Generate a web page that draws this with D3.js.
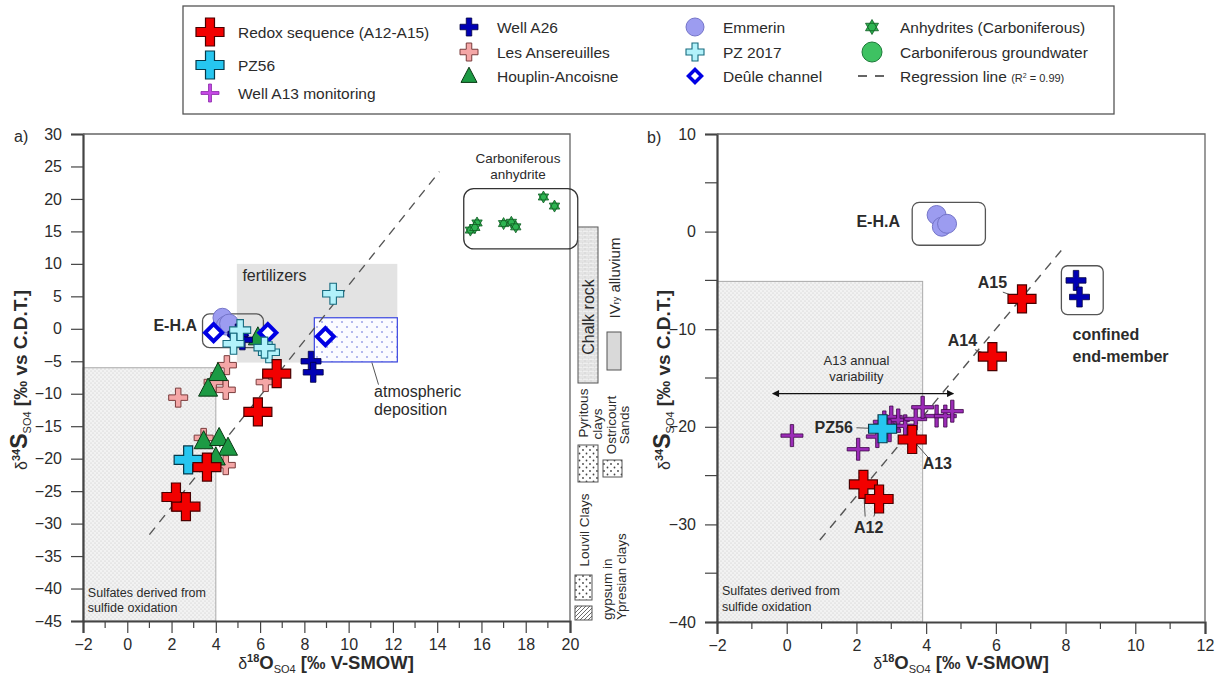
<!DOCTYPE html>
<html>
<head>
<meta charset="utf-8">
<script src="https://cdn.jsdelivr.net/npm/d3@7"></script>
<style>
  body { margin: 0; background: #fff; }
  text { font-family: "Liberation Sans", Arial, sans-serif; fill: #2b2b2b; }
</style>
</head>
<body>
<svg id="chart" width="1219" height="693"></svg>
<script>
// ---- data (d18O_SO4, d34S_SO4) ----
const redoxO = [2.2, 2.65, 3.6, 5.9, 6.75];
const redoxS = [-25.9, -27.4, -21.3, -12.8, -6.9];
const pz56O = [2.75];
const pz56S = [-20.2];
const a26O = [8.3, 8.4];
const a26S = [-5.0, -6.7];
const a26ClusterO = [5.2, 5.0];
const a26ClusterS = [-1.7, -0.8];
const emmerinO = [4.3, 4.45, 4.6];
const emmerinS = [1.7, 0.5, 0.8];
const ansereuillesO = [2.3, 3.9, 4.5, 4.45, 6.25, 3.45, 4.45];
const ansereuillesS = [-10.6, -8.2, -5.6, -9.4, -8.2, -16.8, -21.0];
const houplinO = [4.1, 3.65, 5.9, 3.45, 4.15, 4.55, 4.0];
const houplinS = [-6.8, -9.2, -1.3, -17.3, -16.8, -18.3, -19.8];
const pz2017O = [9.3, 5.1, 4.8, 6.4, 6.2];
const pz2017S = [5.4, -0.2, -2.3, -3.6, -2.9];
const deuleO = [3.9, 5.0, 6.35, 8.95];
const deuleS = [-0.6, -1.0, -0.6, -1.2];
const anhydriteO = [15.5, 15.8, 15.7, 17.0, 17.35, 17.55, 18.8, 19.3];
const anhydriteS = [15.2, 16.3, 15.6, 16.2, 16.4, 15.7, 20.3, 18.9];
const a13O = [0.15, 2.05, 2.6, 2.8, 3.0, 3.2, 3.4, 2.95, 3.7, 3.9, 4.3, 4.55, 4.75];
const a13S = [-20.9, -22.3, -21.0, -19.5, -19.0, -19.3, -19.9, -20.4, -19.2, -18.0, -18.9, -18.9, -18.4];
const regAO = [1.0, 14.1];
const regAS = [-31.7, 24.2];
const regBO = [0.95, 8.0];
const regBS = [-31.6, -1.4];

const seriesNames = ['Redox sequence (A12-A15)', 'PZ56', 'Well A13 monitoring', 'Well A26', 'Les Ansereuilles',
  'Houplin-Ancoisne', 'Emmerin', 'PZ 2017', 'Deûle channel', 'Anhydrites (Carboniferous)',
  'Carboniferous groundwater', 'Regression line'];

const xTicksA = d3.range(-2, 21, 2);
const yTicksA = d3.range(-45, 31, 5);
const xTicksB = d3.range(-2, 13, 2);
const yTicksB = d3.range(-40, 11, 10);

// ---- shapes ----
function plus(w, t) {
  const a = w / 2, b = t / 2;
  return `M${-b},${-a}H${b}V${-b}H${a}V${b}H${b}V${a}H${-b}V${b}H${-a}V${-b}H${-b}Z`;
}
function hexagram(r) {
  const tri = (rot) => d3.range(3).map(i => {
    const ang = rot + i * 2 * Math.PI / 3;
    return [r * Math.sin(ang), -r * Math.cos(ang)];
  });
  const p = (pts) => 'M' + pts.map(q => q.join(',')).join('L') + 'Z';
  return p(tri(0)) + p(tri(Math.PI));
}
const circle = (r) => d3.symbol(d3.symbolCircle, Math.PI * r * r)();
const triangle = (w) => `M0,${-w * 0.55}L${w / 2},${w * 0.4}L${-w / 2},${w * 0.4}Z`;
const diamond = (w) => `M0,${-w / 2}L${w / 2},0L0,${w / 2}L${-w / 2},0Z`;

const styles = {
  redox: { d: plus(28, 9), fill: '#f20000', stroke: '#4a0000', sw: 1.2 },
  pz56: { d: plus(28, 9), fill: '#26c6f0', stroke: '#063848', sw: 1.2 },
  a13: { d: plus(22, 3.4), fill: '#9c2cb8', stroke: '#3e0848', sw: 0.8 },
  a26: { d: plus(20, 5.5), fill: '#0000b4', stroke: '#000040', sw: 0.8 },
  ans: { d: plus(19, 5.5), fill: '#f4a6a6', stroke: '#7a3c3c', sw: 1 },
  houp: { d: triangle(19), fill: '#1c9a44', stroke: '#0a3814', sw: 1 },
  emm: { d: circle(9.5), fill: '#9c9cf0', stroke: '#7474c8', sw: 1 },
  pz17: { d: plus(21, 6.5), fill: '#b2f2fb', stroke: '#176a7e', sw: 1.1 },
  deule: { d: diamond(17), fill: '#ffffff', stroke: '#0000e4', sw: 4 },
  anh: { d: hexagram(6), fill: '#2eb452', stroke: '#0f5a22', sw: 0.8 },
  cgw: { d: circle(10), fill: '#3ec262', stroke: '#1c7a38', sw: 1 }
};

const svg = d3.select('#chart');
const defs = svg.append('defs');

// patterns
const stip = defs.append('pattern').attr('id', 'stip').attr('width', 4).attr('height', 4).attr('patternUnits', 'userSpaceOnUse');
stip.append('rect').attr('width', 4).attr('height', 4).attr('fill', '#f2f2f2');
stip.append('circle').attr('cx', 1).attr('cy', 1).attr('r', 0.55).attr('fill', '#c4c4c4');
stip.append('circle').attr('cx', 3).attr('cy', 3).attr('r', 0.55).attr('fill', '#c4c4c4');

const atm = defs.append('pattern').attr('id', 'atm').attr('width', 10).attr('height', 10).attr('patternUnits', 'userSpaceOnUse');
atm.append('rect').attr('width', 10).attr('height', 10).attr('fill', '#fbfbff');
atm.append('circle').attr('cx', 2).attr('cy', 2).attr('r', 0.8).attr('fill', '#5a64d8');
atm.append('circle').attr('cx', 7).attr('cy', 7).attr('r', 0.8).attr('fill', '#5a64d8');

const dots = defs.append('pattern').attr('id', 'dots').attr('width', 7).attr('height', 7).attr('patternUnits', 'userSpaceOnUse');
dots.append('rect').attr('width', 7).attr('height', 7).attr('fill', '#fff');
dots.append('circle').attr('cx', 2).attr('cy', 2).attr('r', 0.9).attr('fill', '#444');
dots.append('circle').attr('cx', 5.5).attr('cy', 5.5).attr('r', 0.9).attr('fill', '#444');

const chalk = defs.append('pattern').attr('id', 'chalk').attr('width', 6).attr('height', 4).attr('patternUnits', 'userSpaceOnUse');
chalk.append('rect').attr('width', 6).attr('height', 4).attr('fill', '#efefef');
chalk.append('path').attr('d', 'M0,0H6M0,2H6M3,0V2M0,2V4').attr('stroke', '#c8c8c8').attr('stroke-width', 0.6);

const hatch = defs.append('pattern').attr('id', 'hatch').attr('width', 4).attr('height', 4).attr('patternUnits', 'userSpaceOnUse');
hatch.append('rect').attr('width', 4).attr('height', 4).attr('fill', '#fff');
hatch.append('path').attr('d', 'M0,4L4,0').attr('stroke', '#444').attr('stroke-width', 0.8);

// ---- helpers ----
function drawPoints(g, x, y, xs, ys, st) {
  g.append('g').selectAll('path').data(d3.zip(xs, ys)).join('path')
    .attr('transform', d => `translate(${x(d[0])},${y(d[1])})`)
    .attr('d', st.d)
    .attr('fill', st.fill)
    .attr('stroke', st.stroke)
    .attr('stroke-width', st.sw)
    .attr('stroke-linejoin', 'miter');
}

function drawFrame(g, x, y, xMajor, xMinor, yMajor, yMinor) {
  const [x0, x1] = x.range();
  const [y0, y1] = y.range();
  // minor ticks
  g.append('g').selectAll('line').data(xMinor).join('line')
    .attr('x1', d => x(d)).attr('x2', d => x(d)).attr('y1', y0).attr('y2', y0 + 7)
    .attr('stroke', '#444').attr('stroke-width', 1.2);
  g.append('g').selectAll('line').data(yMinor).join('line')
    .attr('x1', x0).attr('x2', x0 - 12).attr('y1', d => y(d)).attr('y2', d => y(d))
    .attr('stroke', '#444').attr('stroke-width', 1.2);
  const ax = g.append('g').attr('transform', `translate(0,${y0})`)
    .call(d3.axisBottom(x).tickValues(xMajor).tickSize(12).tickPadding(6).tickFormat(d3.format('d')));
  const ay = g.append('g').attr('transform', `translate(${x0},0)`)
    .call(d3.axisLeft(y).tickValues(yMajor).tickSize(12).tickPadding(9).tickFormat(d3.format('d')));
  [ax, ay].forEach(a => {
    a.select('.domain').attr('stroke', '#444').attr('stroke-width', 2.2);
    a.selectAll('.tick line').attr('stroke', '#444').attr('stroke-width', 1.2);
    a.selectAll('.tick text').style('font-size', '16px').attr('fill', '#333')
      .style('font-family', '"Liberation Sans", Arial, sans-serif');
  });
  g.append('path').attr('d', `M${x0},${y1}H${x1}V${y0}`)
    .attr('fill', 'none').attr('stroke', '#666').attr('stroke-width', 1.3);
}

function xTitle(g, cx, cy) {
  const t = g.append('text').attr('x', cx).attr('y', cy).attr('text-anchor', 'middle')
    .style('font-size', '18.5px').style('font-weight', 'bold');
  t.append('tspan').text('δ').style('font-weight', 'normal').style('font-size', '16px');
  t.append('tspan').text('18').style('font-size', '11px').attr('dy', -7);
  t.append('tspan').text('O').attr('dy', 7);
  t.append('tspan').text('SO4').style('font-size', '11px').style('font-weight', 'normal').attr('dy', 4);
  t.append('tspan').text(' [‰ V-SMOW]').attr('dy', -4);
}

function yTitle(g, cx, cy) {
  const t = g.append('text').attr('transform', `translate(${cx},${cy}) rotate(-90)`).attr('text-anchor', 'middle')
    .style('font-size', '19px').style('font-weight', 'bold');
  t.append('tspan').text('δ').style('font-weight', 'normal').style('font-size', '16px');
  t.append('tspan').text('34').style('font-size', '11px').attr('dy', -7);
  t.append('tspan').text('S').attr('dy', 7).style('font-size', '23px');
  t.append('tspan').text('SO4').style('font-size', '11px').style('font-weight', 'normal').attr('dy', 4);
  t.append('tspan').text(' [‰ vs C.D.T.]').attr('dy', -4);
}

function label(g, px, py, txt, opts = {}) {
  return g.append('text').attr('x', px).attr('y', py).text(txt)
    .attr('text-anchor', opts.anchor || 'start')
    .style('font-size', (opts.size || 15) + 'px')
    .style('font-weight', opts.bold ? 'bold' : 'normal')
    .attr('fill', opts.color || '#2b2b2b');
}

function leader(g, p1, p2) {
  g.append('line').attr('x1', p1[0]).attr('y1', p1[1]).attr('x2', p2[0]).attr('y2', p2[1])
    .attr('stroke', '#555').attr('stroke-width', 1);
}

// ================= PANEL A =================
const xA = d3.scaleLinear().domain([-2, 20]).range([83, 570]);
const yA = d3.scaleLinear().domain([-45, 30]).range([621, 134]);
const gA = svg.append('g');

// regions
gA.append('rect').attr('x', xA(-2)).attr('y', yA(-6)).attr('width', xA(4) - xA(-2)).attr('height', yA(-45) - yA(-6))
  .attr('fill', 'url(#stip)').attr('stroke', '#aaa').attr('stroke-width', 1);
gA.append('rect').attr('x', xA(4.95)).attr('y', yA(10)).attr('width', xA(12.2) - xA(4.95)).attr('height', yA(-5.2) - yA(10))
  .attr('fill', '#e3e3e3');
gA.append('rect').attr('x', xA(8.45)).attr('y', yA(1.7)).attr('width', xA(12.2) - xA(8.45)).attr('height', yA(-5.1) - yA(1.7))
  .attr('fill', 'url(#atm)').attr('stroke', '#3a46e0').attr('stroke-width', 1.2);

label(gA, xA(-1.78), yA(-41.3), 'Sulfates derived from', { size: 12.5, color: '#444' });
label(gA, xA(-1.78), yA(-43.6), 'sulfide oxidation', { size: 12.5, color: '#444' });
label(gA, xA(5.2), yA(7.4), 'fertilizers', { size: 16 });
label(gA, xA(11.15), yA(-10.5), 'atmospheric', { size: 16 });
label(gA, xA(11.15), yA(-13.3), 'deposition', { size: 16 });
leader(gA, [xA(11.05), yA(-5.2)], [xA(11.35), yA(-8.6)]);

drawFrame(gA, xA, yA, xTicksA, d3.range(-1, 20, 2), yTicksA, []);

// regression
gA.append('line').attr('x1', xA(regAO[0])).attr('y1', yA(regAS[0])).attr('x2', xA(regAO[1])).attr('y2', yA(regAS[1]))
  .attr('stroke', '#555').attr('stroke-width', 1.4).attr('stroke-dasharray', '9,7');

// rounded boxes
gA.append('rect').attr('x', xA(3.4)).attr('y', yA(2.3)).attr('width', xA(6.15) - xA(3.4)).attr('height', yA(-2.9) - yA(2.3))
  .attr('rx', 7).attr('fill', 'none').attr('stroke', '#555').attr('stroke-width', 1.3);
gA.append('rect').attr('x', xA(15.2)).attr('y', yA(21.6)).attr('width', xA(20.35) - xA(15.2)).attr('height', yA(12.3) - yA(21.6))
  .attr('rx', 10).attr('fill', 'none').attr('stroke', '#333').attr('stroke-width', 1.3);
label(gA, xA(17.65), yA(25.6), 'Carboniferous', { size: 13.5, anchor: 'middle' });
label(gA, xA(17.65), yA(23.0), 'anhydrite', { size: 13.5, anchor: 'middle' });
label(gA, xA(3.15), yA(-0.3), 'E-H.A', { size: 16, bold: true, anchor: 'end' });

// points
drawPoints(gA, xA, yA, anhydriteO, anhydriteS, styles.anh);
drawPoints(gA, xA, yA, ansereuillesO, ansereuillesS, styles.ans);
drawPoints(gA, xA, yA, houplinO, houplinS, styles.houp);
drawPoints(gA, xA, yA, emmerinO, emmerinS, styles.emm);
drawPoints(gA, xA, yA, deuleO, deuleS, styles.deule);
drawPoints(gA, xA, yA, a26ClusterO, a26ClusterS, styles.a26);
drawPoints(gA, xA, yA, pz2017O, pz2017S, styles.pz17);
drawPoints(gA, xA, yA, a26O, a26S, styles.a26);
drawPoints(gA, xA, yA, pz56O, pz56S, styles.pz56);
drawPoints(gA, xA, yA, redoxO, redoxS, styles.redox);

xTitle(gA, 326, 669);
yTitle(gA, 27, 380);
label(gA, 14, 142, 'a)', { size: 16 });

// stratigraphic column (right of panel a)
const sc = svg.append('g');
function vtext(px, py, txt, size, anchor) {
  return sc.append('text').attr('transform', `translate(${px},${py}) rotate(-90)`)
    .attr('text-anchor', anchor || 'middle').style('font-size', size + 'px').attr('fill', '#333').text(txt);
}
sc.append('rect').attr('x', 578).attr('y', 227).attr('width', 20).attr('height', 156).attr('fill', 'url(#chalk)').attr('stroke', '#555');
vtext(594, 317, 'Chalk rock', 16);
const iv = sc.append('text').attr('transform', 'translate(620,278) rotate(-90)').attr('text-anchor', 'middle')
  .style('font-size', '15px').attr('fill', '#333');
iv.append('tspan').text('IV');
iv.append('tspan').text('ry').style('font-size', '9px').attr('dy', -1);
iv.append('tspan').text(' alluvium').attr('dy', 1);
sc.append('rect').attr('x', 607).attr('y', 332).attr('width', 14).attr('height', 38).attr('fill', '#d9d9d9').attr('stroke', '#555');
vtext(588, 413, 'Pyritous', 13.5);
vtext(602, 424, 'clays', 13.5);
sc.append('rect').attr('x', 578).attr('y', 445).attr('width', 20).attr('height', 37).attr('fill', 'url(#dots)').attr('stroke', '#555');
vtext(616, 425, 'Ostricourt', 13.5);
vtext(629, 425, 'Sands', 13.5);
sc.append('rect').attr('x', 603).attr('y', 460).attr('width', 19).attr('height', 17).attr('fill', 'url(#dots)').attr('stroke', '#555');
vtext(589, 530, 'Louvil Clays', 13.5);
sc.append('rect').attr('x', 575).attr('y', 575).attr('width', 17).attr('height', 25).attr('fill', 'url(#dots)').attr('stroke', '#555');
sc.append('rect').attr('x', 575).attr('y', 606).attr('width', 17).attr('height', 14).attr('fill', 'url(#hatch)').attr('stroke', '#555');
vtext(612, 620, 'gypsum in', 13.5, 'start');
vtext(626, 620, 'Ypresian clays', 13.5, 'start');

// ================= PANEL B =================
const xB = d3.scaleLinear().domain([-2, 12]).range([717, 1205]);
const yB = d3.scaleLinear().domain([-40, 10]).range([622, 134]);
const gB = svg.append('g');

gB.append('rect').attr('x', xB(-2)).attr('y', yB(-5.1)).attr('width', xB(3.9) - xB(-2)).attr('height', yB(-40) - yB(-5.1))
  .attr('fill', 'url(#stip)').attr('stroke', '#aaa').attr('stroke-width', 1);
label(gB, xB(-1.86), yB(-37.2), 'Sulfates derived from', { size: 12.5, color: '#444' });
label(gB, xB(-1.86), yB(-38.9), 'sulfide oxidation', { size: 12.5, color: '#444' });

drawFrame(gB, xB, yB, xTicksB, d3.range(-1, 12, 2), yTicksB, d3.range(-35, 10, 10));

gB.append('line').attr('x1', xB(regBO[0])).attr('y1', yB(regBS[0])).attr('x2', xB(regBO[1])).attr('y2', yB(regBS[1]))
  .attr('stroke', '#555').attr('stroke-width', 1.4).attr('stroke-dasharray', '9,7');

// arrow
defs.append('marker').attr('id', 'ah').attr('viewBox', '0 0 10 10').attr('refX', 9).attr('refY', 5)
  .attr('markerWidth', 9).attr('markerHeight', 7).attr('markerUnits', 'userSpaceOnUse').attr('orient', 'auto-start-reverse')
  .append('path').attr('d', 'M0,0L10,5L0,10Z').attr('fill', '#111');
gB.append('line').attr('x1', xB(-0.4)).attr('y1', yB(-16.6)).attr('x2', xB(4.78)).attr('y2', yB(-16.6))
  .attr('stroke', '#111').attr('stroke-width', 1.3)
  .attr('marker-start', 'url(#ah)').attr('marker-end', 'url(#ah)');
label(gB, xB(2.0), yB(-13.7), 'A13 annual', { size: 13, anchor: 'middle', color: '#444' });
label(gB, xB(2.0), yB(-15.3), 'variability', { size: 13, anchor: 'middle', color: '#444' });

// boxes
gB.append('rect').attr('x', xB(3.6)).attr('y', yB(3.0)).attr('width', xB(5.7) - xB(3.6)).attr('height', yB(-1.4) - yB(3.0))
  .attr('rx', 7).attr('fill', 'none').attr('stroke', '#555').attr('stroke-width', 1.3);
label(gB, xB(3.25), yB(0.5), 'E-H.A', { size: 16, bold: true, anchor: 'end' });
gB.append('rect').attr('x', xB(7.88)).attr('y', yB(-3.5)).attr('width', xB(9.08) - xB(7.88)).attr('height', yB(-8.5) - yB(-3.5))
  .attr('rx', 6).attr('fill', 'none').attr('stroke', '#555').attr('stroke-width', 1.3);
label(gB, xB(8.2), yB(-11.1), 'confined', { size: 16, bold: true });
label(gB, xB(8.2), yB(-13.35), 'end-member', { size: 16, bold: true });

// leaders and labels for redox sequence
leader(gB, [xB(6.2), yB(-6.2)], [xB(redoxO[4]), yB(redoxS[4])]);
label(gB, xB(5.48), yB(-5.8), 'A15', { size: 16, bold: true });
leader(gB, [xB(5.4), yB(-12.1)], [xB(redoxO[3]), yB(redoxS[3])]);
label(gB, xB(4.62), yB(-11.7), 'A14', { size: 16, bold: true });
leader(gB, [xB(4.05), yB(-23.1)], [xB(redoxO[2]), yB(redoxS[2])]);
label(gB, xB(3.9), yB(-24.3), 'A13', { size: 16, bold: true });
leader(gB, [xB(2.25), yB(-29.2)], [xB(redoxO[0]), yB(redoxS[0])]);
leader(gB, [xB(2.5), yB(-29.2)], [xB(redoxO[1]), yB(redoxS[1])]);
label(gB, xB(2.35), yB(-30.9), 'A12', { size: 16, bold: true, anchor: 'middle' });
leader(gB, [xB(2.0), yB(-20.1)], [xB(pz56O[0]), yB(pz56S[0])]);
label(gB, xB(0.8), yB(-20.6), 'PZ56', { size: 16, bold: true });

drawPoints(gB, xB, yB, emmerinO, emmerinS, styles.emm);
drawPoints(gB, xB, yB, a26O, a26S, styles.a26);
drawPoints(gB, xB, yB, a13O, a13S, styles.a13);
drawPoints(gB, xB, yB, pz56O, pz56S, styles.pz56);
drawPoints(gB, xB, yB, redoxO, redoxS, styles.redox);

xTitle(gB, 961, 669);
yTitle(gB, 670, 380);
label(gB, 647, 143, 'b)', { size: 16 });

// ================= LEGEND =================
const lg = svg.append('g');
lg.append('rect').attr('x', 183).attr('y', 6).attr('width', 931).attr('height', 108)
  .attr('fill', '#fff').attr('stroke', '#555').attr('stroke-width', 1.3);
const legendItems = [
  { name: seriesNames[0], st: styles.redox, x: 210, y: 32 },
  { name: seriesNames[1], st: styles.pz56, x: 210, y: 65 },
  { name: seriesNames[2], st: { ...styles.a13, d: plus(18, 3), fill: '#c448e4', stroke: '#8a2aa8' }, x: 210, y: 93 },
  { name: seriesNames[3], st: { ...styles.a26, d: plus(18, 5.5) }, x: 469, y: 27 },
  { name: seriesNames[4], st: { ...styles.ans, d: plus(18, 5.5) }, x: 469, y: 52 },
  { name: seriesNames[5], st: { ...styles.houp, d: triangle(16) }, x: 469, y: 76 },
  { name: seriesNames[6], st: { ...styles.emm, d: circle(9) }, x: 695, y: 27 },
  { name: seriesNames[7], st: { ...styles.pz17, d: plus(18, 6) }, x: 695, y: 52 },
  { name: seriesNames[8], st: { ...styles.deule, d: diamond(13), sw: 3.5 }, x: 695, y: 76 },
  { name: seriesNames[9], st: { ...styles.anh, d: hexagram(7.5) }, x: 872, y: 27 },
  { name: seriesNames[10], st: styles.cgw, x: 872, y: 52 }
];
legendItems.forEach(it => {
  lg.append('path').attr('transform', `translate(${it.x},${it.y})`).attr('d', it.st.d)
    .attr('fill', it.st.fill).attr('stroke', it.st.stroke).attr('stroke-width', it.st.sw);
  label(lg, it.x + 28, it.y + 5.5, it.name, { size: 15.5, color: '#333' });
});
lg.append('line').attr('x1', 858).attr('x2', 888).attr('y1', 76).attr('y2', 76)
  .attr('stroke', '#333').attr('stroke-width', 1.3).attr('stroke-dasharray', '9,8');
const rl = label(lg, 900, 81.5, seriesNames[11] + ' ', { size: 15.5, color: '#333' });
rl.append('tspan').text('(R').style('font-size', '11px');
rl.append('tspan').text('2').style('font-size', '7px').attr('dy', -4);
rl.append('tspan').text(' = 0.99)').style('font-size', '11px').attr('dy', 4);
</script>
</body>
</html>
